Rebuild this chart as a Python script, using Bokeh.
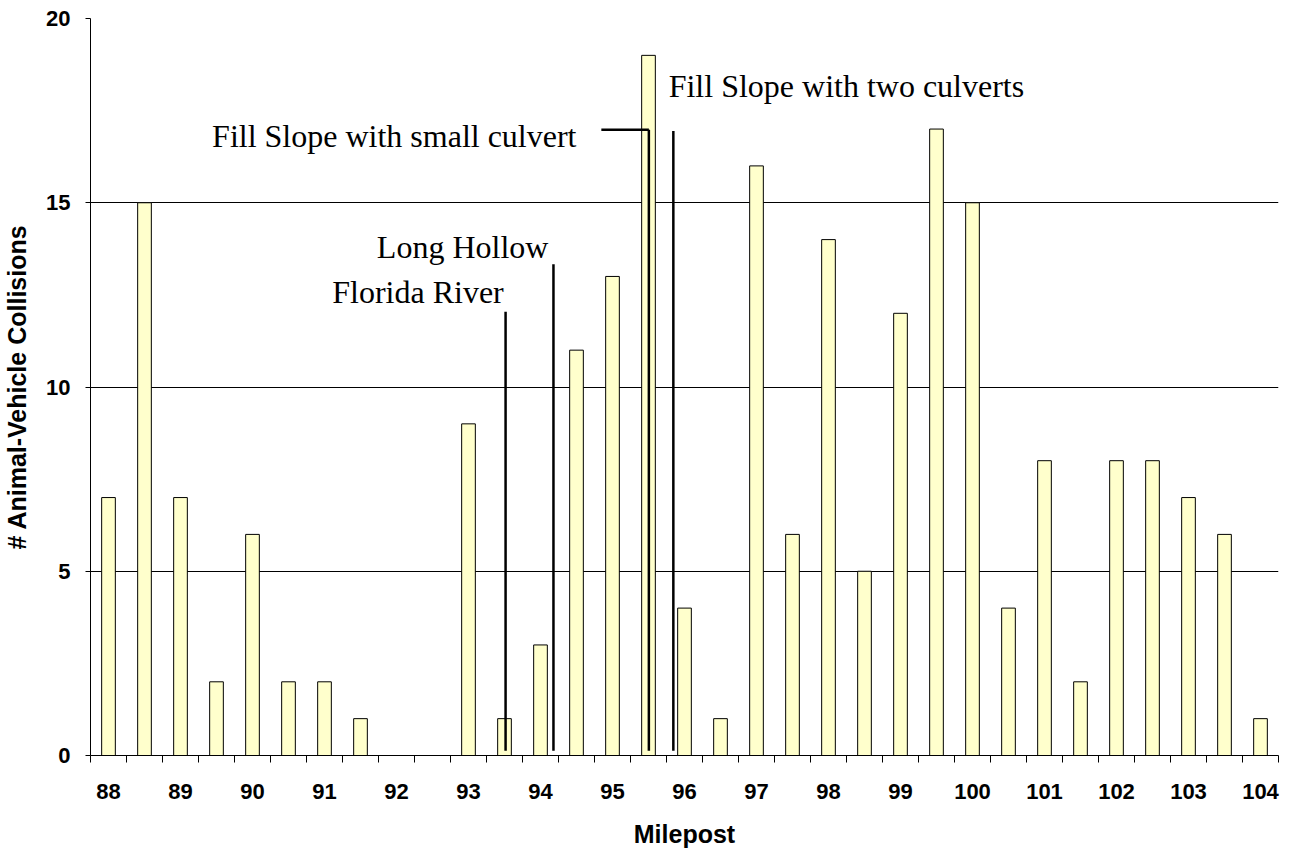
from bokeh.plotting import figure
from bokeh.models import Range1d, FixedTicker, ColumnDataSource
from bokeh.core.properties import value
from bokeh.embed import file_html
from bokeh.resources import INLINE

# Data
mileposts = [88, 88.5, 89, 89.5, 90, 90.5, 91, 91.5, 92, 92.5, 93, 93.5, 94, 94.5,
             95, 95.5, 96, 96.5, 97, 97.5, 98, 98.5, 99, 99.5, 100, 100.5, 101,
             101.5, 102, 102.5, 103, 103.5, 104]
collisions = [7, 15, 7, 2, 6, 2, 2, 1, 0, 0, 9, 1, 3, 11, 13, 19, 4, 1, 16, 6, 14,
              5, 12, 17, 15, 4, 8, 2, 8, 8, 7, 6, 1]
x_ticks = list(range(88, 105))
y_ticks = [0, 5, 10, 15, 20]

# Annotations (milepost, top value)
marker_x = [93.515, 94.18, 95.505, 95.845]
marker_top = [12.04, 13.33, 16.98, 16.95]
marker_bottom = [0.13, 0.13, 0.13, 0.13]
culvert_bar_x0 = [94.845]
culvert_bar_x1 = [95.505]
culvert_bar_y = [16.98]
label_text = ["Florida River", "Long Hollow", "Fill Slope with small culvert"]
label_x = [93.49, 94.11, 94.5]
label_y = [12.58, 13.80, 16.80]
label2_text = ["Fill Slope with two culverts"]
label2_x = [95.78]
label2_y = [18.17]

p = figure(width=1291, height=850, output_backend="svg", toolbar_location=None,
           x_range=Range1d(87.75, 104.25), y_range=Range1d(0, 20),
           min_border_left=90, min_border_right=13, min_border_top=18,
           min_border_bottom=91)
p.outline_line_color = None
p.background_fill_color = "white"

src = ColumnDataSource(dict(x=mileposts, top=collisions))
p.vbar(x="x", top="top", bottom=0, width=0.19, source=src,
       fill_color="#FFFFCC", line_color="black", line_width=1)

# annotation lines
p.segment(x0=marker_x, x1=marker_x, y0=marker_bottom, y1=marker_top,
          line_color="black", line_width=2.5)
p.segment(x0=culvert_bar_x0, x1=culvert_bar_x1, y0=culvert_bar_y, y1=culvert_bar_y,
          line_color="black", line_width=2.5)

p.text(x=label_x, y=label_y, text=label_text, text_align="right",
       text_baseline="alphabetic", text_font=value("Liberation Serif"),
       text_font_size="32px", text_color="black")
p.text(x=label2_x, y=label2_y, text=label2_text, text_align="left",
       text_baseline="alphabetic", text_font=value("Liberation Serif"),
       text_font_size="32px", text_color="black")

# grid
p.xgrid.visible = False
p.ygrid.ticker = FixedTicker(ticks=y_ticks)
p.ygrid.grid_line_color = "black"
p.ygrid.grid_line_width = 1

# x axis
minor = [87.75 + 0.5 * k for k in range(34)]
p.xaxis.ticker = FixedTicker(ticks=x_ticks, minor_ticks=minor)
p.xaxis.major_tick_out = 0
p.xaxis.major_tick_in = 0
p.xaxis.minor_tick_out = 7
p.xaxis.minor_tick_in = 0
p.xaxis.minor_tick_line_color = "black"
p.xaxis.axis_line_color = "black"
p.xaxis.major_label_text_font = "Liberation Sans"
p.xaxis.major_label_text_font_style = "bold"
p.xaxis.major_label_text_font_size = "22px"
p.xaxis.major_label_text_color = "black"
p.xaxis.major_label_standoff = 21
p.xaxis.axis_label = "Milepost"
p.xaxis.axis_label_text_font = "Liberation Sans"
p.xaxis.axis_label_text_font_style = "bold"
p.xaxis.axis_label_text_font_size = "25px"
p.xaxis.axis_label_text_color = "black"
p.xaxis.axis_label_standoff = 18

# y axis
p.yaxis.ticker = FixedTicker(ticks=y_ticks)
p.yaxis.major_tick_out = 5
p.yaxis.major_tick_in = 0
p.yaxis.minor_tick_out = 0
p.yaxis.minor_tick_in = 0
p.yaxis.axis_line_color = "black"
p.yaxis.major_tick_line_color = "black"
p.yaxis.major_label_text_font = "Liberation Sans"
p.yaxis.major_label_text_font_style = "bold"
p.yaxis.major_label_text_font_size = "22px"
p.yaxis.major_label_text_color = "black"
p.yaxis.major_label_standoff = 15
p.yaxis.axis_label = "# Animal-Vehicle Collisions"
p.yaxis.axis_label_text_font = "Liberation Sans"
p.yaxis.axis_label_text_font_style = "bold"
p.yaxis.axis_label_text_font_size = "25px"
p.yaxis.axis_label_text_color = "black"
p.yaxis.axis_label_standoff = 12

open("out.html", "w").write(file_html(p, INLINE))
